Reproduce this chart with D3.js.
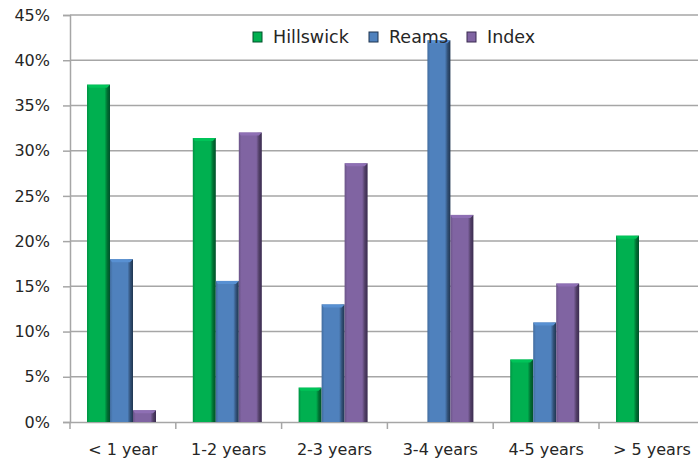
<!DOCTYPE html>
<html>
<head>
<meta charset="utf-8">
<script src="https://cdn.jsdelivr.net/npm/d3@7/dist/d3.min.js"></script>
<style>
  html, body { margin: 0; padding: 0; background: #fff; }
  svg { display: block; font-family: "DejaVu Sans", sans-serif; }
</style>
</head>
<body>
<svg id="chart" width="698" height="462"></svg>
<script>
const categories = ['< 1 year', '1-2 years', '2-3 years', '3-4 years', '4-5 years', '> 5 years'];
const seriesNames = ['Hillswick', 'Reams', 'Index'];
const hillswick = [37.3, 31.4, 3.8, 0, 6.9, 20.6];
const reams     = [18.0, 15.6, 13.0, 42.2, 11.0, 0];
const indexVals = [1.3, 32.0, 28.6, 22.9, 15.3, 0];
const yTicks = [0, 5, 10, 15, 20, 25, 30, 35, 40, 45];
const colors = ['#00b050', '#4f81bd', '#8064a2'];
const darks  = ['#00502a', '#1f3550', '#3a2b50'];

const allSeries = [hillswick, reams, indexVals];

const svg = d3.select('#chart');
const m = { t: 15, l: 70 };
const bandW = 105.8;
const innerW = bandW * categories.length, innerH = 407;

const x = d3.scaleBand().domain(categories).range([0, innerW]).paddingInner(0).paddingOuter(0);
// bars sit a little left of centre in each group
const xs = d3.scaleBand().domain(seriesNames).range([17, 17 + 69]).paddingInner(0).paddingOuter(0);
const y = d3.scaleLinear().domain([0, 45]).range([innerH, 0]);

const defs = svg.append('defs');
colors.forEach((c, i) => {
  const g = defs.append('linearGradient').attr('id', 'bar' + i).attr('x1', 0).attr('x2', 1);
  g.append('stop').attr('offset', '0%').attr('stop-color', d3.color(c).darker(0.5));
  g.append('stop').attr('offset', '12%').attr('stop-color', c);
  g.append('stop').attr('offset', '76%').attr('stop-color', c);
  g.append('stop').attr('offset', '88%').attr('stop-color', d3.color(c).darker(1.3));
  g.append('stop').attr('offset', '100%').attr('stop-color', darks[i]);
});

const g = svg.append('g').attr('transform', `translate(${m.l},${m.t})`);

// gridlines
g.append('g').selectAll('line').data(yTicks.filter(d => d > 0)).join('line')
  .attr('x1', 0).attr('x2', innerW)
  .attr('y1', d => y(d)).attr('y2', d => y(d))
  .attr('stroke', '#a6a6a6').attr('stroke-width', 1.5);

// y axis
const yAxis = g.append('g')
  .call(d3.axisLeft(y).tickValues(yTicks).tickSize(7).tickPadding(13).tickFormat(d => d + '%'));
yAxis.select('.domain').attr('stroke', '#a6a6a6').attr('stroke-width', 1.5);
yAxis.selectAll('.tick line').attr('stroke', '#a6a6a6').attr('stroke-width', 1.5);
yAxis.selectAll('text').attr('font-size', 16).attr('fill', '#262626')
  .attr('font-family', '"DejaVu Sans", sans-serif');

// x axis
const xAxis = g.append('g').attr('transform', `translate(0,${innerH})`)
  .call(d3.axisBottom(x).tickSize(0).tickPadding(22));
xAxis.select('.domain').attr('stroke', '#a6a6a6').attr('stroke-width', 1.5);
xAxis.selectAll('text').attr('font-size', 16).attr('fill', '#262626')
  .attr('font-family', '"DejaVu Sans", sans-serif');
g.append('g').selectAll('line').data(d3.range(categories.length + 1)).join('line')
  .attr('x1', d => d * bandW).attr('x2', d => d * bandW)
  .attr('y1', innerH).attr('y2', innerH + 7)
  .attr('stroke', '#a6a6a6').attr('stroke-width', 1.5);

// bars
allSeries.forEach((vals, si) => {
  const sg = g.append('g');
  const data = vals.map((v, ci) => ({ cat: categories[ci], v })).filter(d => d.v > 0);
  sg.selectAll('rect').data(data).join('rect')
    .attr('x', d => x(d.cat) + xs(seriesNames[si]))
    .attr('y', d => y(d.v))
    .attr('width', xs.bandwidth())
    .attr('height', d => y(0) - y(d.v))
    .attr('fill', `url(#bar${si})`);
  // top bevel
  sg.selectAll('path').data(data).join('path')
    .attr('d', d => {
      const x0 = x(d.cat) + xs(seriesNames[si]), w = xs.bandwidth(), y0 = y(d.v);
      return `M${x0},${y0}L${x0 + w},${y0}L${x0 + w - 3},${y0 + 3}L${x0 + 2},${y0 + 3}Z`;
    })
    .attr('fill', d3.color(colors[si]).brighter(0.3));
});

// legend
const legend = svg.append('g').attr('transform', 'translate(253,43)');
const legX = [0, 116, 214];
seriesNames.forEach((n, i) => {
  const lg = legend.append('g').attr('transform', `translate(${legX[i]},0)`);
  lg.append('rect').attr('x', 0).attr('y', -11).attr('width', 9).attr('height', 10)
    .attr('fill', colors[i]).attr('stroke', darks[i]).attr('stroke-width', 1);
  lg.append('text').attr('x', 20).attr('y', 0).attr('font-size', 17.5).attr('fill', '#262626').text(n);
});
</script>
</body>
</html>
